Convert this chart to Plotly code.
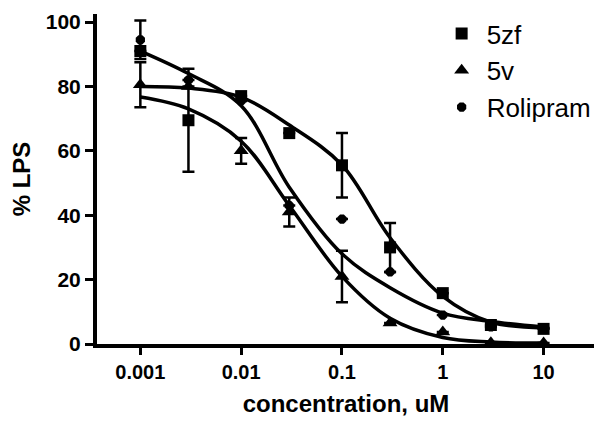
import plotly.graph_objects as go

# concentrations (uM)
conc = [0.001, 0.003, 0.01, 0.03, 0.1, 0.3, 1, 3, 10]

# measured points (% LPS)
zf_y = [91, 69.5, 77, 65.5, 55.5, 30, 15.8, 5.9, 4.7]
zf_err = [0, 16, 0, 0, 10, 7.6, 0, 0, 0]
v_y = [80.5, 80, 60, 41, 21, 6.5, 3.7, 0.4, 0.3]
v_err = [7, 0, 4, 4.5, 8, 0, 0, 0, 0]
rol_y = [94.5, 82, 75.5, 43, 38.8, 22.4, 9, 5.3, 5]
rol_err = [6, 0, 0, 0, 0, 0, 0, 0, 0]

# fitted curves
fit_x = [0.001, 0.003, 0.01, 0.03, 0.1, 0.3, 1, 3, 10]
zf_fit = [80, 79.5, 76.7, 68, 55.6, 33, 14.8, 6.8, 5]
v_fit = [76.7, 73, 63, 43, 21, 8, 2, 0.6, 0.3]
rol_fit = [91, 84, 74, 48.7, 28, 17.5, 9.6, 7, 5.3]

series = [
    ('5zf', zf_y, zf_err, zf_fit, 'square', 12),
    ('5v', v_y, v_err, v_fit, 'triangle-up', 13),
    ('Rolipram', rol_y, rol_err, rol_fit, 'octagon', 10),
]

fig = go.Figure()

for name, ys, errs, fit, sym, sz in series:
    fig.add_trace(go.Scatter(
        x=fit_x, y=fit, mode='lines',
        line=dict(color='black', width=3.5, shape='spline', smoothing=1.0),
        showlegend=False, hoverinfo='skip', cliponaxis=False
    ))

for name, ys, errs, fit, sym, sz in series:
    fig.add_trace(go.Scatter(
        x=conc, y=ys, mode='markers', name=name,
        legendgroup=name,
        marker=dict(symbol=sym, size=sz, color='black'),
        error_y=dict(type='data', array=errs, visible=True,
                     color='black', thickness=2.5, width=6),
        cliponaxis=False
    ))

# the page body adds 8px around the figure, so size and margins allow for it
fig.update_layout(
    width=594, height=418,
    margin=dict(l=89, r=7, t=6, b=82, autoexpand=False),
    paper_bgcolor='white', plot_bgcolor='white',
    font=dict(family='Liberation Sans, Arial', color='black'),
    legend=dict(
        x=0.682, y=1.012, xanchor='left', yanchor='top',
        font=dict(size=26, family='Liberation Sans, Arial'),
        tracegroupgap=0, itemwidth=40, bgcolor='rgba(0,0,0,0)'
    ),
)

fig.update_xaxes(
    type='log', range=[-3.43, 1.51],
    tickvals=[0.001, 0.01, 0.1, 1, 10],
    ticktext=['0.001', '0.01', '0.1', '1', '10'],
    ticks='outside', ticklen=7, tickwidth=3, tickcolor='black',
    showline=True, linewidth=4, linecolor='black',
    showgrid=False, zeroline=False, automargin=False,
    tickfont=dict(size=20, weight='bold'),
    title=dict(text='<b>concentration, uM</b>', font=dict(size=24), standoff=14),
)
fig.update_yaxes(
    range=[0, 102.5],
    tickvals=[0, 20, 40, 60, 80, 100],
    ticks='outside', ticklen=8, tickwidth=3, tickcolor='black',
    showline=True, linewidth=4, linecolor='black',
    showgrid=False, zeroline=False, automargin=False,
    tickfont=dict(size=21, weight='bold'),
    title=dict(text='<b>% LPS</b>', font=dict(size=24), standoff=12),
)

fig.write_html('out.html')
